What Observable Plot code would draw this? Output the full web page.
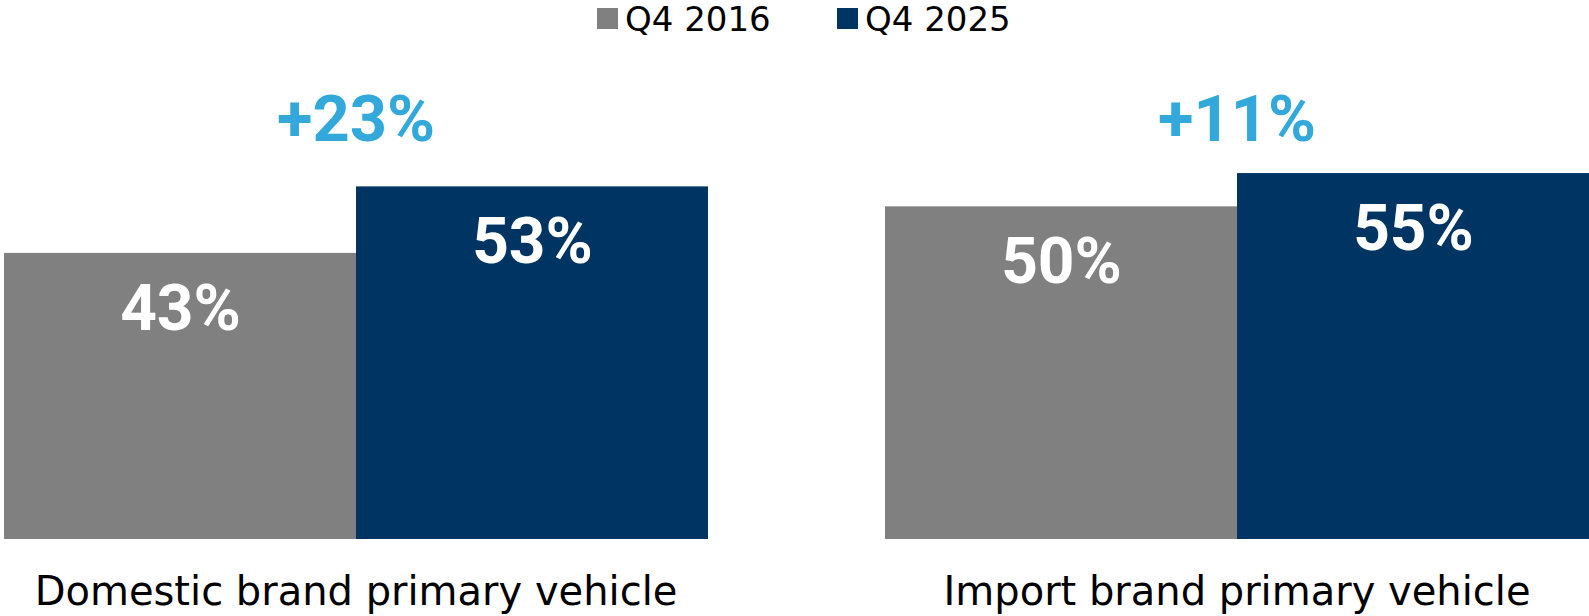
<!DOCTYPE html>
<html>
<head>
<meta charset="utf-8">
<script src="https://cdn.jsdelivr.net/npm/d3@7"></script>
<script src="https://cdn.jsdelivr.net/npm/@observablehq/plot@0.6"></script>
<style>
  html, body { margin: 0; padding: 0; background: #fff; }
  body { width: 1589px; height: 616px; overflow: hidden; font-family: "DejaVu Sans", sans-serif; }
  #legend { position: relative; height: 40px; }
  .item { position: absolute; top: 0; height: 40px; display: flex; align-items: flex-start; }
  .sw { width: 21px; height: 21px; margin-top: 8px; margin-right: 7px; }
  .lbl { font-size: 34px; line-height: 1; margin-top: 2px; color: #000; }
  #chart svg { display: block; }
</style>
</head>
<body>
<div id="legend"></div>
<div id="chart"></div>
<script>
const groups = ["Domestic brand primary vehicle", "Import brand primary vehicle"];
const periods = ["Q4 2016", "Q4 2025"];
const q4_2016 = [43, 50];
const q4_2025 = [53, 55];
const changes = ["+23%", "+11%"];
const colors = ["#808080", "#003462"];
const legendLeft = [597, 837];

// legend
const legend = document.getElementById("legend");
periods.forEach((p, i) => {
  const it = document.createElement("div");
  it.className = "item";
  it.style.left = legendLeft[i] + "px";
  const sw = document.createElement("div");
  sw.className = "sw";
  sw.style.background = colors[i];
  const lb = document.createElement("div");
  lb.className = "lbl";
  lb.textContent = p;
  it.appendChild(sw); it.appendChild(lb);
  legend.appendChild(it);
});

const data = groups.flatMap((g, i) => [
  {group: g, period: periods[0], value: q4_2016[i]},
  {group: g, period: periods[1], value: q4_2025[i]}
]);
const ann = groups.map((g, i) => ({group: g, label: changes[i]}));
const groupLabels = groups.map(g => ({group: g}));

const chart = Plot.plot({
  width: 1589,
  height: 576,
  marginLeft: 3,
  marginRight: 0,
  marginTop: 0,
  marginBottom: 77,
  style: {fontFamily: "DejaVu Sans, sans-serif", background: "#fff"},
  fx: {domain: groups, paddingInner: 0.2, paddingOuter: 0, axis: null, label: null},
  x: {domain: periods, padding: 0, axis: null},
  y: {domain: [0, 75], axis: null},
  color: {domain: periods, range: colors},
  marks: [
    Plot.barY(data, {fx: "group", x: "period", y: "value", fill: "period"}),
    Plot.text(data, {
      fx: "group", x: "period", y: "value", text: d => d.value + "%",
      dy: 56, lineAnchor: "middle", fill: "#fff",
      fontSize: 64, fontWeight: "bold", fontFamily: "Roboto"
    }),
    Plot.text(ann, {
      fx: "group", text: "label", frameAnchor: "top", dy: 80, lineAnchor: "middle",
      fill: "#33A8DB", fontSize: 65, fontWeight: "bold", fontFamily: "Roboto"
    }),
    Plot.text(groupLabels, {
      fx: "group", text: "group", frameAnchor: "bottom", dy: 53, lineAnchor: "middle",
      fill: "#000", fontSize: 40, fontFamily: "DejaVu Sans"
    })
  ]
});
document.getElementById("chart").appendChild(chart);
</script>
</body>
</html>
